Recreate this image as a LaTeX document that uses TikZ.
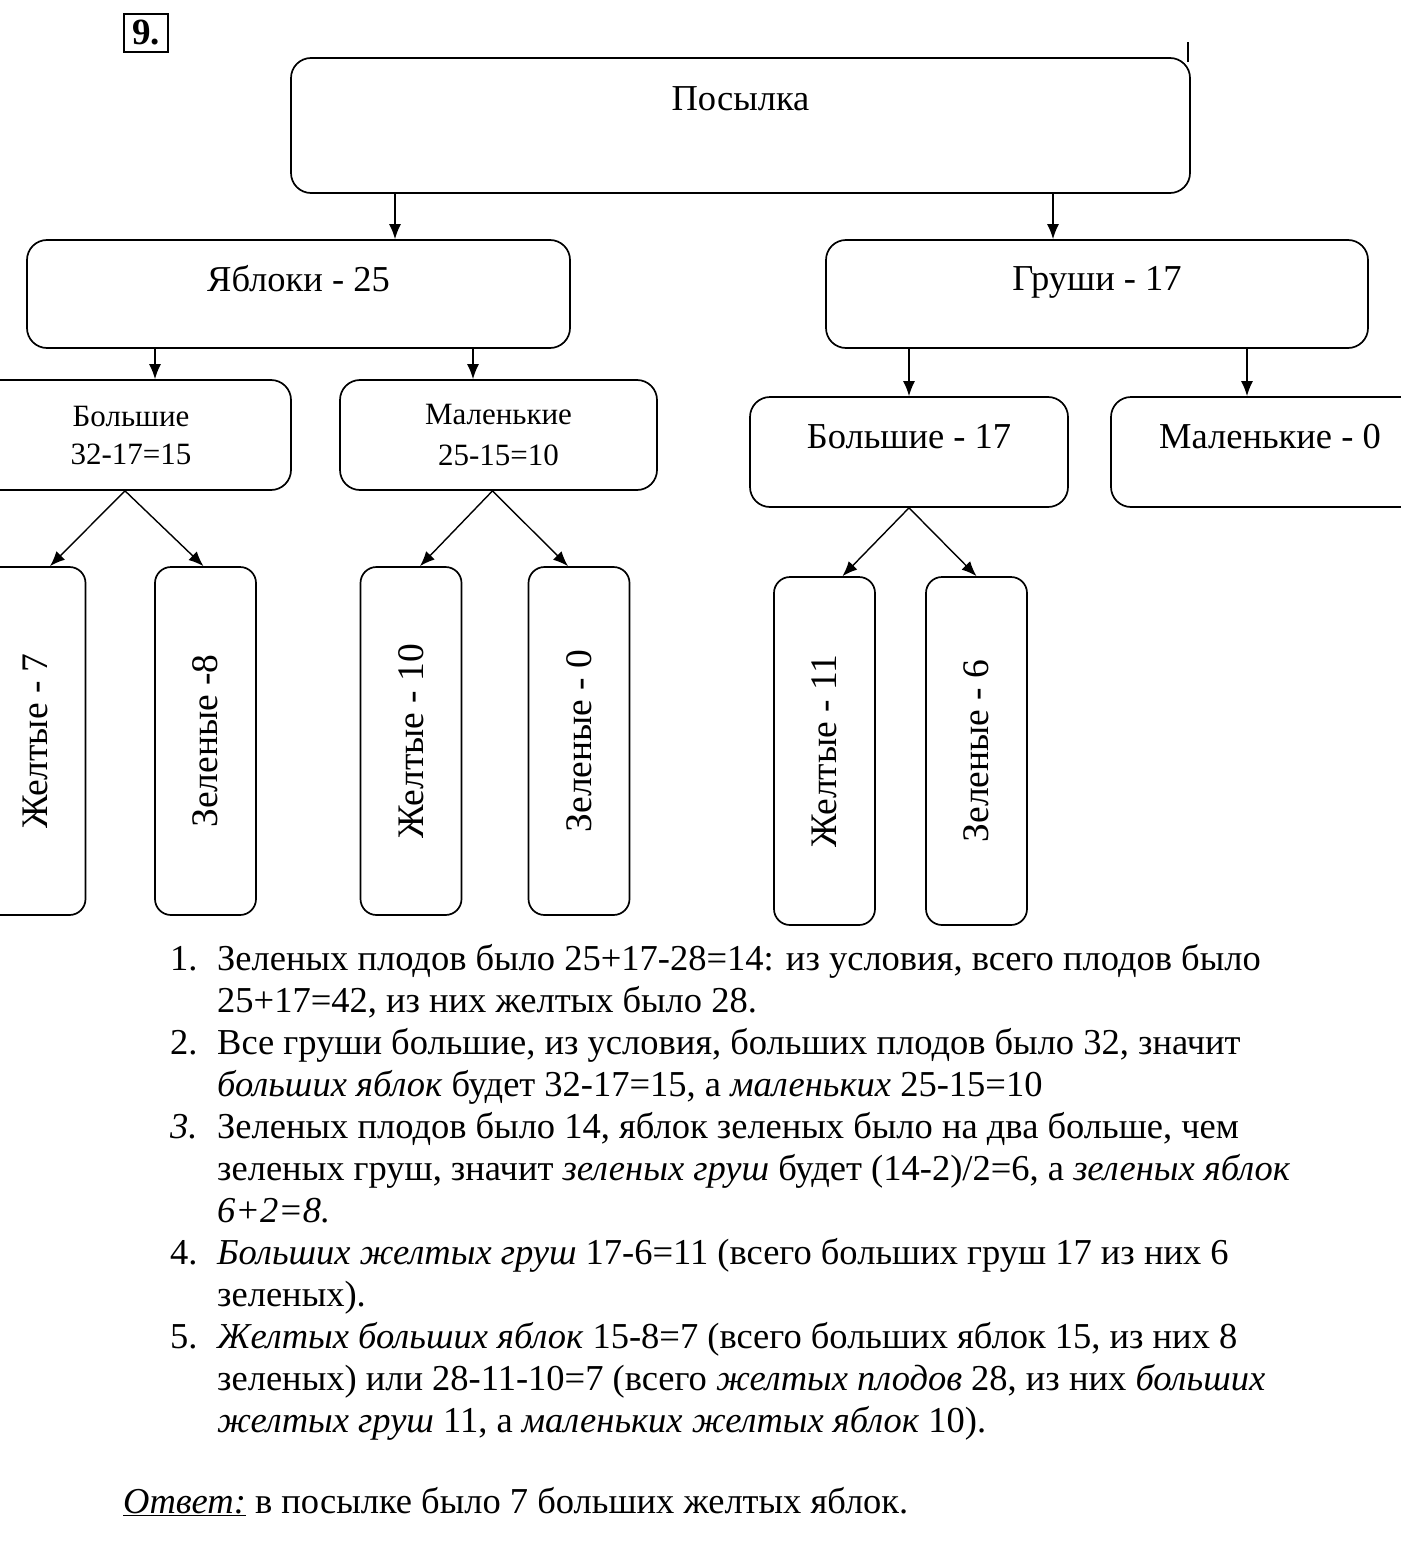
\documentclass[tikz,border=0pt]{standalone}
\usepackage{fontspec}
\setmainfont{Liberation Serif}
\usetikzlibrary{arrows.meta}
\tikzset{
  box/.style={draw, line width=1.7pt, rounded corners=20pt, align=center, inner sep=0pt},
  tall/.style={box, rounded corners=16pt, minimum width=101pt, minimum height=348pt},
  arr/.style={line width=1.4pt, -{Latex[length=15pt,width=12pt]}},
  big/.style={font=\fontsize{36.5}{40}\selectfont},
  vert/.style={font=\fontsize{37.5}{40}\selectfont},
}
\begin{document}
\begin{tikzpicture}[x=1pt,y=-1pt]
  \useasboundingbox (0,0) rectangle (1400,1541);
  % task number
  \node[draw, line width=1.8pt, minimum width=44pt, minimum height=38pt, inner sep=0pt,
        font=\bfseries\fontsize{37}{40}\selectfont] (n) at (146,33) {9.};
  % boxes
  \node[box, minimum width=899pt, minimum height=135pt,
        label={[big, anchor=north, yshift=-26pt]north:Посылка}] (p) at (740.5,125.5) {};
  \draw[line width=1.7pt] ([xshift=-3pt, yshift=-5pt]p.north east) -- ++(0,-20);
  \node[box, minimum width=543pt, minimum height=108pt,
        label={[big, anchor=north, yshift=-23pt]north:Яблоки - 25}] (a) at (298.5,294) {};
  \node[box, minimum width=542pt, minimum height=108pt,
        label={[big, anchor=north, yshift=-24pt]north:Груши - 17}] (g) at (1097,294) {};
  \node[box, minimum width=320pt, minimum height=110pt,
        font=\fontsize{31}{38}\selectfont] (ab) at (131,435) {Большие\\32-17=15};
  \node[box, minimum width=317pt, minimum height=110pt,
        font=\fontsize{31}{41}\selectfont] (am) at (498.5,435) {Маленькие\\25-15=10};
  \node[box, minimum width=318pt, minimum height=110pt,
        label={[big, anchor=north, yshift=-25pt]north:Большие - 17}] (gb) at (909,452) {};
  \node[box, minimum width=318pt, minimum height=110pt,
        label={[big, anchor=north, yshift=-25pt]north:Маленькие - 0}] (gm) at (1270,452) {};
  \node[tall, vert] (aby) at (35,741) {\rotatebox{90}{Желтые - 7}};
  \node[tall, vert] (abz) at (205.5,741) {\rotatebox{90}{Зеленые -8}};
  \node[tall, vert] (amy) at (411,741) {\rotatebox{90}{Желтые - 10}};
  \node[tall, vert] (amz) at (579,741) {\rotatebox{90}{Зеленые - 0}};
  \node[tall, vert] (gby) at (824.5,751) {\rotatebox{90}{Желтые - 11}};
  \node[tall, vert] (gbz) at (976.5,751) {\rotatebox{90}{Зеленые - 6}};
  % arrows
  \draw[arr] ([xshift=96.5pt]a.north |- p.south) -- ([xshift=96.5pt]a.north);
  \draw[arr] ([xshift=-44pt]g.north |- p.south) -- ([xshift=-44pt]g.north);
  \draw[arr] ([xshift=24pt]ab.north |- a.south) -- ([xshift=24pt]ab.north);
  \draw[arr] ([xshift=-25.5pt]am.north |- a.south) -- ([xshift=-25.5pt]am.north);
  \draw[arr] (gb.north |- g.south) -- (gb.north);
  \draw[arr] ([xshift=-23pt]gm.north |- g.south) -- ([xshift=-23pt]gm.north);
  \draw[arr] ([xshift=-6pt]ab.south) -- ([xshift=15pt]aby.north);
  \draw[arr] ([xshift=-6pt]ab.south) -- ([xshift=-2pt]abz.north);
  \draw[arr] ([xshift=-6pt]am.south) -- ([xshift=9pt]amy.north);
  \draw[arr] ([xshift=-6pt]am.south) -- ([xshift=-11pt]amz.north);
  \draw[arr] (gb.south) -- ([xshift=18pt]gby.north);
  \draw[arr] (gb.south) -- (gbz.north);
  % solution
  \node[anchor=north west, align=left, inner sep=0pt,
        font=\fontsize{36.5}{42}\selectfont] (sol) at (170,944) {%
    \makebox[47pt][l]{1.}Зеленых плодов было 25+17-28=14: из условия, всего плодов было\\
    \hspace*{47pt}25+17=42, из них желтых было 28.\\
    \makebox[47pt][l]{2.}Все груши большие, из условия, больших плодов было 32, значит\\
    \hspace*{47pt}\textit{больших яблок} будет 32-17=15, а \textit{маленьких} 25-15=10\\
    \makebox[47pt][l]{\textit{3.}}Зеленых плодов было 14, яблок зеленых было на два больше, чем\\
    \hspace*{47pt}зеленых груш, значит \textit{зеленых груш} будет (14-2)/2=6, а \textit{зеленых яблок}\\
    \hspace*{47pt}\textit{6+2=8.}\\
    \makebox[47pt][l]{4.}\textit{Больших желтых груш} 17-6=11 (всего больших груш 17 из них 6\\
    \hspace*{47pt}зеленых).\\
    \makebox[47pt][l]{5.}\textit{Желтых больших яблок} 15-8=7 (всего больших яблок 15, из них 8\\
    \hspace*{47pt}зеленых) или 28-11-10=7 (всего \textit{желтых плодов} 28, из них \textit{больших}\\
    \hspace*{47pt}\textit{желтых груш} 11, а \textit{маленьких желтых яблок} 10).};
  \node[anchor=base west, inner sep=0pt, font=\fontsize{36.5}{42}\selectfont] (ans)
    at (123,1513) {\underline{\textit{Ответ:}} в посылке было 7 больших желтых яблок.};
\end{tikzpicture}
\end{document}
